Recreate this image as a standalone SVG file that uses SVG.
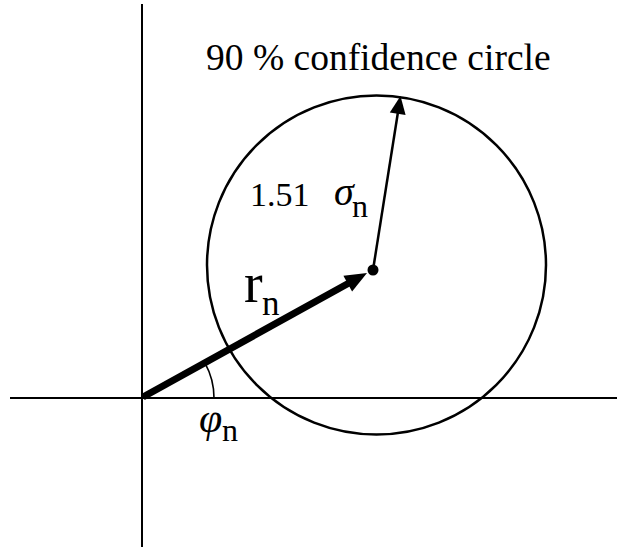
<svg xmlns="http://www.w3.org/2000/svg" width="617" height="547" viewBox="0 0 617 547">
<style>
.ax{stroke:#000;stroke-width:2;fill:none}
.t{font-family:"Liberation Serif","Times New Roman",serif;fill:#000}
.i{font-style:italic}
</style>
<rect width="617" height="547" fill="#fff"/>
<g id="axes">
<line class="ax" x1="142" y1="4" x2="142" y2="547"/>
<line class="ax" x1="10" y1="398" x2="617" y2="398"/>
</g>
<g id="circle">
<circle cx="376.5" cy="265" r="169.5" fill="none" stroke="#000" stroke-width="2.5"/>
<circle cx="373" cy="270" r="5.5" fill="#000"/>
</g>
<g id="connectors">
<line x1="143" y1="397" x2="349" y2="283" stroke="#000" stroke-width="7"/>
<polygon points="367,273 352.1,291.5 343.4,275.8" fill="#000"/>
<line x1="373" y1="270" x2="398" y2="112" stroke="#000" stroke-width="2.5"/>
<polygon points="400.5,96 405.6,115 389.8,112.5" fill="#000"/>
<path d="M205,363.2 A72,72 0 0 1 214,398" fill="none" stroke="#000" stroke-width="1.6"/>
</g>
<g id="labels">
<text class="t" x="206" y="70" font-size="37.5">90 % confidence circle</text>
<text class="t" x="250" y="206" font-size="34">1.51</text>
<text class="t i" x="334" y="205" font-size="40">σ</text>
<text class="t" x="352" y="217" font-size="32">n</text>
<text class="t" x="244" y="302" font-size="56">r</text>
<text class="t" x="262" y="315" font-size="35">n</text>
<text class="t i" x="199" y="432" font-size="42">φ</text>
<text class="t" x="222" y="441" font-size="32">n</text>
</g>
</svg>
